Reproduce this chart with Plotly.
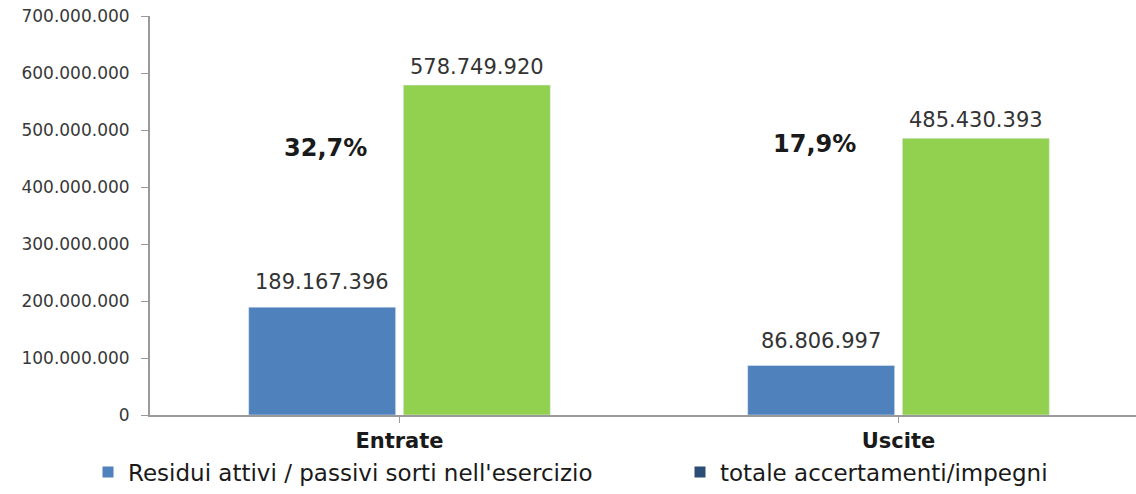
import plotly.graph_objects as go

categories = ["Entrate", "Uscite"]
residui = [189167396, 86806997]
totale = [578749920, 485430393]
percent_labels = ["32,7%", "17,9%"]
series_names = ["Residui attivi / passivi sorti nell'esercizio", "totale accertamenti/impegni"]
tick_vals = [0, 100000000, 200000000, 300000000, 400000000, 500000000, 600000000, 700000000]
tick_text = ["0", "100.000.000", "200.000.000", "300.000.000", "400.000.000",
             "500.000.000", "600.000.000", "700.000.000"]

BLUE = "#4F81BD"
GREEN = "#92D050"
DARKBLUE = "#2C4D75"

def fmt(v):
    return f"{v:,}".replace(",", ".")

xidx = list(range(len(categories)))

fig = go.Figure()
fig.add_trace(go.Bar(x=xidx, y=residui, marker_color=BLUE, showlegend=False, hoverinfo="y"))
fig.add_trace(go.Bar(x=xidx, y=totale, marker_color=GREEN, showlegend=False, hoverinfo="y"))

# legend entries (as in the original, both with blue squares)
fig.add_trace(go.Scatter(x=[None], y=[None], mode="markers", name=series_names[0], legend="legend",
                         marker=dict(symbol="square", size=11, color=BLUE)))
fig.add_trace(go.Scatter(x=[None], y=[None], mode="markers", name=series_names[1], legend="legend2",
                         marker=dict(symbol="square", size=11, color=DARKBLUE)))

bargap = 0.38
bargroupgap = 0.05
slot = (1 - bargap) / 2
offsets = [-slot / 2, slot / 2]

LBL = dict(family="DejaVu Sans", size=21, color="#333333")
annotations = []
for i, c in enumerate(categories):
    annotations.append(dict(x=i + offsets[0], y=residui[i], text=fmt(residui[i]), showarrow=False,
                            yshift=25, xref="x", yref="y", font=LBL))
    annotations.append(dict(x=i + offsets[1], y=totale[i], text=fmt(totale[i]), showarrow=False,
                            yshift=18, xref="x", yref="y", font=LBL))
pct_pos = [(-0.148, 469e6), (-0.168, 476e6)]
for i, p in enumerate(percent_labels):
    annotations.append(dict(x=i + pct_pos[i][0], y=pct_pos[i][1], text="<b>" + p + "</b>", showarrow=False,
                            xref="x", yref="y",
                            font=dict(family="DejaVu Sans", size=24, color="#1a1a1a")))

LEGFONT = dict(family="DejaVu Sans", size=23, color="#1a1a1a")
fig.update_layout(
    width=1136, height=494,
    margin=dict(l=150, r=0, t=16, b=79, autoexpand=False),
    paper_bgcolor="white", plot_bgcolor="white",
    barmode="group", bargap=bargap, bargroupgap=bargroupgap,
    annotations=annotations,
    showlegend=True,
    legend=dict(orientation="h", x=88 / 1136, xref="container", xanchor="left",
                y=1 - 472 / 494, yref="container", yanchor="middle",
                font=LEGFONT, bgcolor="rgba(0,0,0,0)"),
    legend2=dict(orientation="h", x=680 / 1136, xref="container", xanchor="left",
                 y=1 - 472 / 494, yref="container", yanchor="middle",
                 font=LEGFONT, bgcolor="rgba(0,0,0,0)"),
    xaxis=dict(range=[-0.5, -0.5 + 986 / 499], tickmode="array", tickvals=xidx,
               ticktext=["<b>" + c + "</b>" for c in categories],
               showline=True, linecolor="#9a9a9a", linewidth=2,
               ticks="outside", tickson="boundaries", ticklen=6, tickcolor="#9a9a9a",
               showgrid=False, zeroline=False,
               tickfont=dict(family="DejaVu Sans", size=21, color="#1a1a1a"),
               fixedrange=True),
    yaxis=dict(range=[0, 700000000], tickmode="array", tickvals=tick_vals, ticktext=tick_text,
               showline=True, linecolor="#9a9a9a", linewidth=2,
               ticks="outside", ticklen=7, tickcolor="#9a9a9a",
               showgrid=False, zeroline=False, ticklabelstandoff=8,
               tickfont=dict(family="DejaVu Sans", size=17, color="#383838"),
               fixedrange=True),
)

fig.write_html("out.html")
